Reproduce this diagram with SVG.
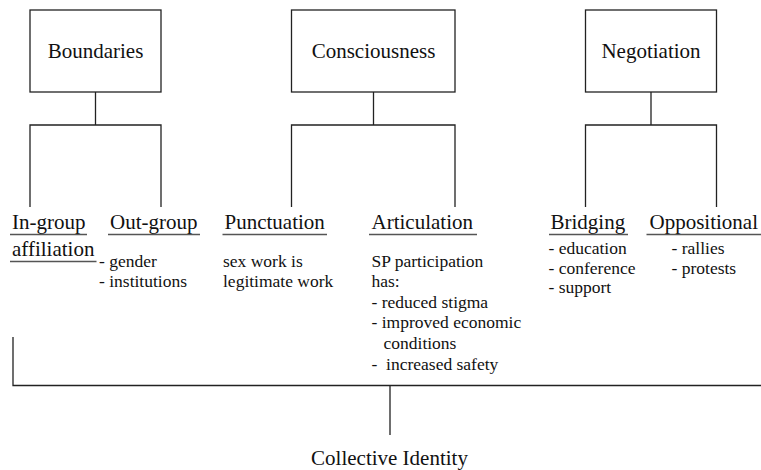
<svg xmlns="http://www.w3.org/2000/svg" width="761" height="470" viewBox="0 0 761 470">
<style>
.cn{stroke:#222;stroke-width:1.3;fill:none}
.nbox{stroke:#222;stroke-width:1.3;fill:#fff}
.uline{stroke:#555;stroke-width:1.3}
text{font-family:'Liberation Serif','Times New Roman',serif;fill:#111}
.head{font-size:21px}
.sub{font-size:17.5px;white-space:pre}
.mid{text-anchor:middle}
</style>
<rect width="761" height="470" fill="#fff"/>
<g id="connectors">
<path class="cn" d="M95.5 92V125M30 207V125H161V207"/>
<path class="cn" d="M373.5 92V125M291.5 207V125H455V207"/>
<path class="cn" d="M651 92V125M585.5 207V125H716.5V207"/>
<path class="cn" d="M13 337V385.5H761M390 385.5V435"/>
</g>
<g id="boundaries">
<rect class="nbox" x="30" y="10" width="131" height="82"/>
<text class="head mid" x="95.5" y="58">Boundaries</text>
</g>
<g id="consciousness">
<rect class="nbox" x="291.5" y="10" width="163.5" height="82"/>
<text class="head mid" x="373.5" y="58">Consciousness</text>
</g>
<g id="negotiation">
<rect class="nbox" x="585.5" y="10" width="131" height="82"/>
<text class="head mid" x="651" y="58">Negotiation</text>
</g>
<g id="ingroup">
<text class="head" x="12" y="229">In-group</text>
<line class="uline" x1="10" y1="234.5" x2="87" y2="234.5"/>
<text class="head" x="12" y="256">affiliation</text>
<line class="uline" x1="10" y1="261.5" x2="96.5" y2="261.5"/>
</g>
<g id="outgroup">
<text class="head" x="110" y="229">Out-group</text>
<line class="uline" x1="108" y1="234.5" x2="200" y2="234.5"/>
<text class="sub" x="99" y="267">- gender</text>
<text class="sub" x="99" y="286.5">- institutions</text>
</g>
<g id="punctuation">
<text class="head" x="224.5" y="229">Punctuation</text>
<line class="uline" x1="222.5" y1="234.5" x2="327" y2="234.5"/>
<text class="sub" x="223" y="267">sex work is</text>
<text class="sub" x="223" y="286.5">legitimate work</text>
</g>
<g id="articulation">
<text class="head" x="371.5" y="229">Articulation</text>
<line class="uline" x1="369" y1="234.5" x2="477" y2="234.5"/>
<text class="sub" x="371.5" y="267">SP participation</text>
<text class="sub" x="371.5" y="287">has:</text>
<text class="sub" x="371.5" y="307.5">- reduced stigma</text>
<text class="sub" x="371.5" y="328">- improved economic</text>
<text class="sub" x="383.5" y="349">conditions</text>
<text class="sub" x="371.5" y="370">-  increased safety</text>
</g>
<g id="bridging">
<text class="head" x="550.5" y="229">Bridging</text>
<line class="uline" x1="549" y1="234.5" x2="628" y2="234.5"/>
<text class="sub" x="548.5" y="254">- education</text>
<text class="sub" x="548.5" y="273.5">- conference</text>
<text class="sub" x="548.5" y="293">- support</text>
</g>
<g id="oppositional">
<text class="head" x="649.5" y="229">Oppositional</text>
<line class="uline" x1="646.5" y1="234.5" x2="761" y2="234.5"/>
<text class="sub" x="671.5" y="254">- rallies</text>
<text class="sub" x="671.5" y="273.5">- protests</text>
</g>
<g id="collective">
<text class="head mid" x="389.5" y="465">Collective Identity</text>
</g>
</svg>
